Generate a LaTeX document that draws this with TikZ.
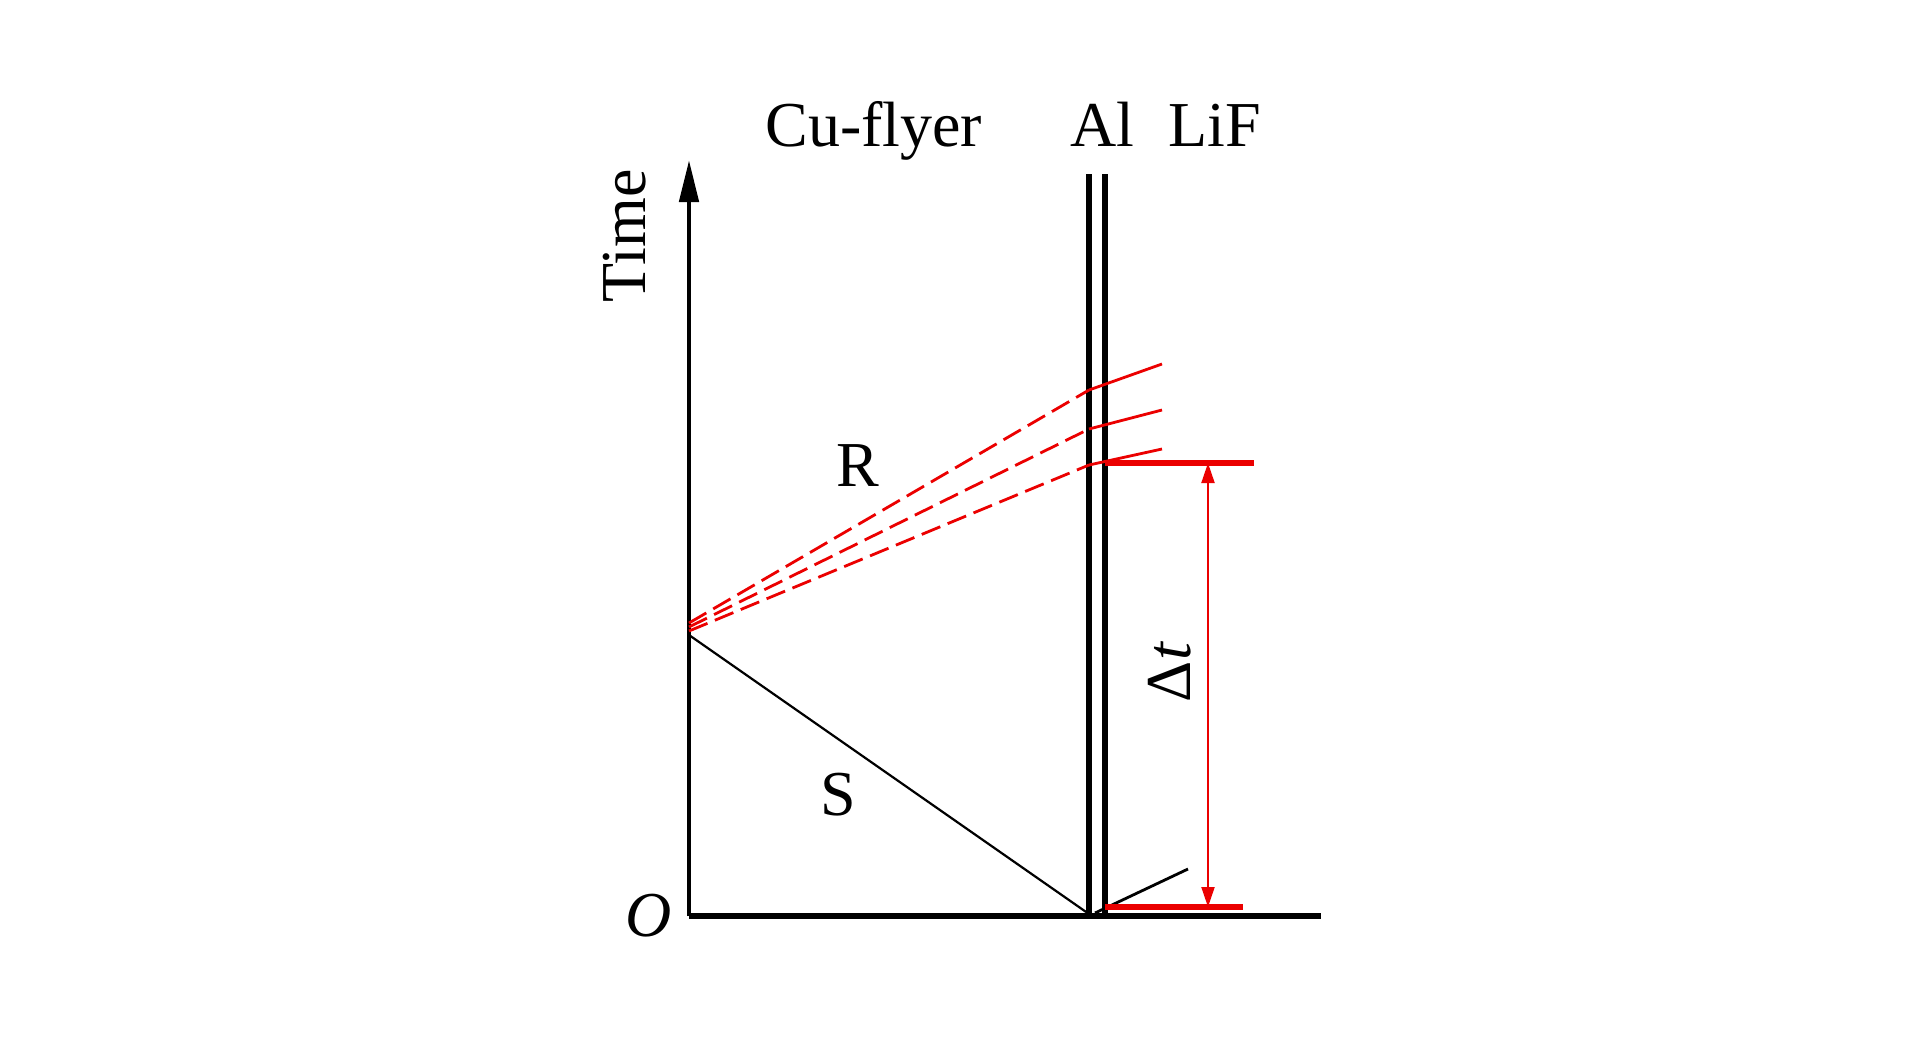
\documentclass[tikz,border=0pt]{standalone}
\usepackage{fontspec}
\setmainfont{Liberation Serif}
\usetikzlibrary{arrows.meta}
\definecolor{lred}{RGB}{235,0,0}
\begin{document}
\begin{tikzpicture}[x=0.5pt,y=-0.5pt,
  lbl/.style={inner sep=0pt,font=\fontsize{32}{38}\selectfont},
  axisline/.style={line width=2.4pt,black},
  alline/.style={line width=3.2pt,black},
  wave/.style={line width=1.1pt,black},
  rdash/.style={line width=1.4pt,lred,dash pattern=on 10pt off 4pt},
  rsolid/.style={line width=1.4pt,lred},
  rbar/.style={line width=2.8pt,lred},
  darrow/.style={line width=1pt,lred,{Triangle[length=10pt,width=6.5pt]}-{Triangle[length=10pt,width=6.5pt]}}]
\useasboundingbox (0,0) rectangle (1923,1039);
% coordinates
\coordinate (O) at (689,916);
\coordinate (ytip) at (689,160);
\coordinate (xend) at (1321,916);
\coordinate (al1b) at (1089,916);
\coordinate (al1t) at (1089,174);
\coordinate (al2b) at (1105,916);
\coordinate (al2t) at (1105,174);
\coordinate (sstart) at (689,635);
\coordinate (send) at (1089,914);
\coordinate (tb) at (1095,913);
\coordinate (te) at (1188,869);
\coordinate (r1s) at (689,623);
\coordinate (r2s) at (689,627);
\coordinate (r3s) at (689,631);
\coordinate (r1m) at (1089,390);
\coordinate (r2m) at (1089,429);
\coordinate (r3m) at (1089,465);
\coordinate (r1e) at (1162,364);
\coordinate (r2e) at (1162,410);
\coordinate (r3e) at (1162,449);
\coordinate (bt1) at (1105,463);
\coordinate (bt2) at (1254,463);
\coordinate (bb1) at (1105,907);
\coordinate (bb2) at (1243,907);
\coordinate (at) at (1208,463);
\coordinate (ab) at (1208,907);
% axes
\draw[axisline,-{Triangle[length=21pt,width=9.5pt]}] (O) -- (ytip);
\draw[line width=3pt] (O) -- (xend);
% Al layers
\draw[alline] (al1b) -- (al1t);
\draw[alline] (al2b) -- (al2t);
% shock and transmitted wave
\draw[wave] (sstart) -- (send);
\draw[line width=1.4pt] (tb) -- (te);
% rarefaction fan
\draw[rdash] (r1s) -- (r1m);
\draw[rdash] (r2s) -- (r2m);
\draw[rdash] (r3s) -- (r3m);
\draw[rsolid] (r1m) -- (r1e);
\draw[rsolid] (r2m) -- (r2e);
\draw[rsolid] (r3m) -- (r3e);
% time interval
\draw[rbar] (bt1) -- (bt2);
\draw[rbar] (bb1) -- (bb2);
\draw[darrow] (at) -- (ab);
% labels
\node[lbl,anchor=base west] (cu) at (765,146) {Cu-flyer};
\node[lbl,anchor=base west] (al) at (1070,146) {Al};
\node[lbl,anchor=base west] (lif) at (1168,146) {LiF};
\node[lbl,anchor=base,rotate=90] (time) at (645,236) {Time};
\node[lbl,anchor=base] (olbl) at (649,936) {\textit{O}};
\node[lbl,anchor=base] (R) at (857.5,486) {R};
\node[lbl,anchor=base] (S) at (838.5,815) {S};
\node[lbl,anchor=base,rotate=90] (dt) at (1190,672) {Δ\textit{t}};
\end{tikzpicture}
\end{document}
